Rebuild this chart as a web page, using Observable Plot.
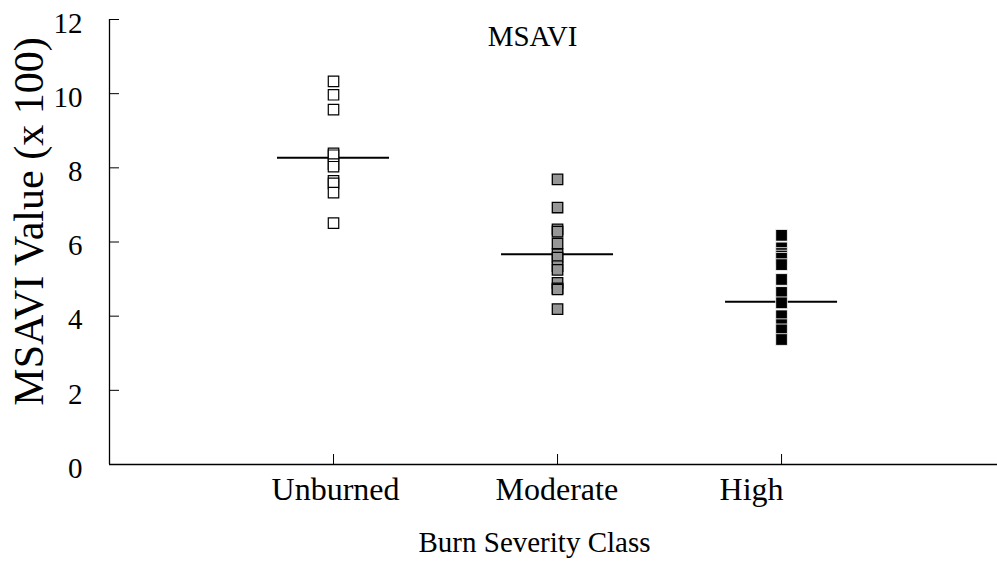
<!DOCTYPE html>
<html>
<head>
<meta charset="utf-8">
<script src="https://cdn.jsdelivr.net/npm/d3@7"></script>
<script src="https://cdn.jsdelivr.net/npm/@observablehq/plot@0.6"></script>
<style>
  html, body { margin: 0; padding: 0; background: #fff; }
</style>
</head>
<body>
<div id="chart"></div>
<script>
const categories = ["Unburned", "Moderate", "High"];
const unburned = [10.33, 9.97, 9.57, 8.39, 8.34, 8.10, 8.03, 7.65, 7.58, 7.33, 6.51];
const moderate = [7.69, 6.93, 6.34, 6.28, 5.96, 5.67, 5.58, 5.35, 5.25, 4.90, 4.75, 4.72, 4.19];
const high = [6.18, 5.84, 5.69, 5.62, 5.56, 5.39, 4.99, 4.64, 4.36, 4.01, 3.77, 3.63, 3.37];
const means = [8.27, 5.67, 4.39];
const yTicks = [0, 2, 4, 6, 8, 10, 12];
const title = "MSAVI";
const yLabel = "MSAVI Value (x 100)";
const xLabel = "Burn Severity Class";

const series = [unburned, moderate, high];
const pts = series.map((vals, i) => vals.map(v => ({x: i + 1, value: v, cat: categories[i]})));
const meanRows = means.map((m, i) => ({x: i + 1, value: m}));
const catRows = categories.map((c, i) => ({x: i + 1, label: c}));

const chart = Plot.plot({
  width: 997,
  height: 561,
  marginLeft: 109,
  marginRight: 0,
  marginTop: 19,
  marginBottom: 97,
  style: {fontFamily: "'Liberation Serif', 'Times New Roman', serif", fontSize: "28px", color: "#000", background: "#fff"},
  x: {domain: [0, 3.964], axis: null},
  y: {domain: [0, 12], axis: null},
  marks: [
    Plot.ruleX([0], {stroke: "#000", strokeWidth: 1.3}),
    Plot.ruleY([0], {stroke: "#000", strokeWidth: 1.3}),
    Plot.axisY({ticks: yTicks, tickSize: -10, tickFormat: () => "", label: null, stroke: "#000"}),
    Plot.text(yTicks, {x: 0, y: d => d, text: d => String(d), textAnchor: "end", dx: -27, dy: 4, lineAnchor: "middle", fontSize: 29}),
    Plot.axisX({ticks: [1, 2, 3], tickSize: -10, tickFormat: () => "", label: null, stroke: "#000"}),
    Plot.text(catRows, {x: "x", y: 0, text: "label", textAnchor: "start", dx: -62, dy: 25, lineAnchor: "middle", fontSize: 32}),
    Plot.ruleY(meanRows, {y: "value", x1: d => d.x - 0.25, x2: d => d.x + 0.25, stroke: "#000", strokeWidth: 2}),
    Plot.dot(pts[0], {x: "x", y: "value", symbol: "square", r: 5.9, fill: "#fff", stroke: "#000", strokeWidth: 1.2}),
    Plot.dot(pts[1], {x: "x", y: "value", symbol: "square", r: 5.9, fill: "#969696", stroke: "#000", strokeWidth: 1.3}),
    Plot.dot(pts[2], {x: "x", y: "value", symbol: "square", r: 6.6, fill: "#000", stroke: "#fff", strokeWidth: 0.8}),
    Plot.text([title], {frameAnchor: "top", dx: -21, dy: 17, lineAnchor: "middle", fontSize: 29}),
    Plot.text([yLabel], {frameAnchor: "left", textAnchor: "middle", rotate: -90, dx: -80, dy: -20.5, lineAnchor: "middle", fontSize: 42}),
    Plot.text([xLabel], {frameAnchor: "bottom", dx: -19, dy: 78, lineAnchor: "middle", fontSize: 29})
  ]
});
document.getElementById("chart").appendChild(chart);
</script>
</body>
</html>
